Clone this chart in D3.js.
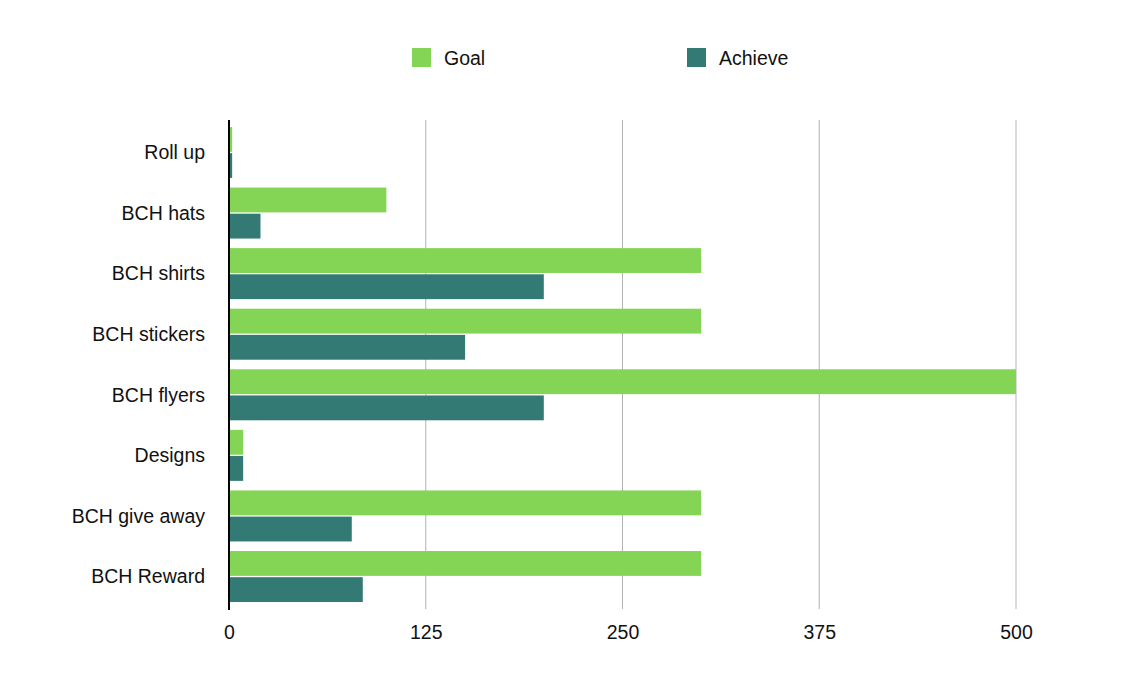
<!DOCTYPE html>
<html>
<head>
<meta charset="utf-8">
<script src="https://cdn.jsdelivr.net/npm/d3@7"></script>
<style>
  body { margin: 0; background: #fff; }
  text { font-family: "Liberation Sans", Arial, Helvetica, sans-serif; fill: #111; }
</style>
</head>
<body>
<div id="chart"></div>
<script>
var width = 1147,
    height = 695;

// data
var categories = ["Roll up", "BCH hats", "BCH shirts", "BCH stickers", "BCH flyers", "Designs", "BCH give away", "BCH Reward"];
var goal = [2, 100, 300, 300, 500, 9, 300, 300];
var achieve = [2, 20, 200, 150, 200, 9, 78, 85];
var seriesNames = ["Goal", "Achieve"];
var tickValues = [0, 125, 250, 375, 500];

var colors = ["#84d455", "#347a74"];
var fontSize = "19.5px";

var margin = {top: 120, right: 131, bottom: 86, left: 229};

var svg = d3.select("#chart").append("svg")
  .attr("width", width)
  .attr("height", height);

var x = d3.scaleLinear()
  .domain([0, 500])
  .range([margin.left, width - margin.right]);

var y = d3.scaleBand()
  .domain(categories)
  .range([margin.top, height - margin.bottom])
  .paddingInner(0.158)
  .paddingOuter(0.115);

var ySub = d3.scaleBand()
  .domain(seriesNames)
  .range([0, y.bandwidth()])
  .paddingInner(0.05);

//gridlines
svg.append("g")
  .selectAll("line")
  .data(tickValues.slice(1))
  .enter().append("line")
  .attr("x1", function(d){ return x(d) })
  .attr("x2", function(d){ return x(d) })
  .attr("y1", margin.top)
  .attr("y2", height - margin.bottom)
  .attr("stroke", "#b3b3b3")
  .attr("stroke-width", 1);

//bars
var rows = categories.map(function(c, i){
  return {cat: c, values: [goal[i], achieve[i]]}
});

var grp = svg.append("g")
  .selectAll("g")
  .data(rows)
  .enter().append("g")
  .attr("transform", function(d){ return "translate(0," + y(d.cat) + ")" });

grp.selectAll("rect")
  .data(function(d){ return d.values.map(function(v, j){ return {s: seriesNames[j], v: v, j: j} }) })
  .enter().append("rect")
  .attr("x", x(0))
  .attr("y", function(d){ return ySub(d.s) })
  .attr("height", ySub.bandwidth())
  .attr("width", function(d){ return x(d.v) - x(0) })
  .attr("fill", function(d){ return colors[d.j] });

//category labels
svg.append("g")
  .selectAll("text")
  .data(categories)
  .enter().append("text")
  .attr("x", x(0) - 24)
  .attr("y", function(d){ return y(d) + y.bandwidth() / 2 })
  .attr("dy", "0.35em")
  .attr("text-anchor", "end")
  .style("font-size", fontSize)
  .text(function(d){ return d });

//x axis tick labels
var xAxis = d3.axisBottom(x)
  .tickValues(tickValues)
  .tickSize(0)
  .tickPadding(16);

var ax = svg.append("g")
  .attr("transform", "translate(0," + (height - margin.bottom) + ")")
  .call(xAxis);
ax.select(".domain").remove();
ax.selectAll("text")
  .style("font-size", fontSize)
  .attr("fill", "#111")
  .style("font-family", "'Liberation Sans', Arial, sans-serif");

//y axis line
svg.append("line")
  .attr("x1", x(0))
  .attr("x2", x(0))
  .attr("y1", margin.top)
  .attr("y2", height - margin.bottom + 1)
  .attr("stroke", "#000")
  .attr("stroke-width", 2);

//legend
var legendX = [412, 687];
var legend = svg.append("g")
  .selectAll("g")
  .data(seriesNames)
  .enter().append("g")
  .attr("transform", function(d, i){ return "translate(" + legendX[i] + ",48)" });

legend.append("rect")
  .attr("width", 19)
  .attr("height", 19)
  .attr("fill", function(d, i){ return colors[i] });

legend.append("text")
  .attr("x", 32)
  .attr("y", 10)
  .attr("dy", "0.35em")
  .style("font-size", fontSize)
  .text(function(d){ return d });
</script>
</body>
</html>
